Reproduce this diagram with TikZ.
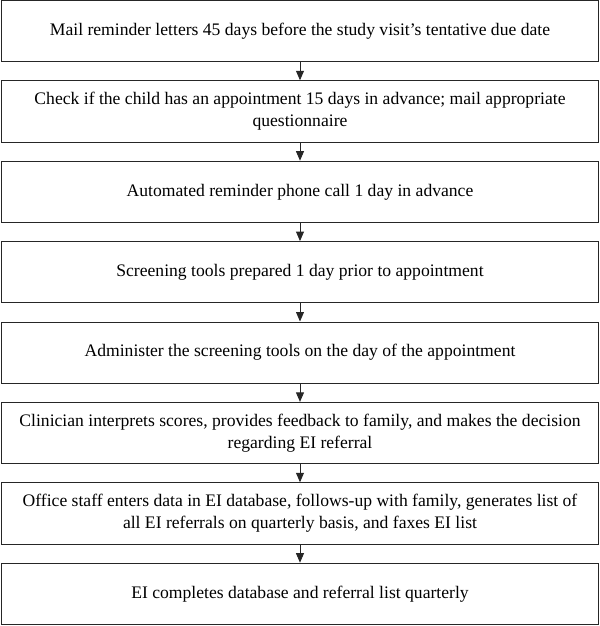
\documentclass[tikz,border=0pt]{standalone}
\usepackage{fontspec}
\setmainfont{Liberation Serif}
\usetikzlibrary{arrows.meta}

\tikzset{
  stepbox/.style={draw=black!85, line width=0.9pt, minimum width=19.9cm, minimum height=2.04cm,
    text width=19.05cm, align=flush center, inner sep=0pt, font=\fontsize{16.7}{21.2}\selectfont},
  flow/.style={draw=black!85, line width=0.9pt, -{Triangle[length=9pt,width=7.5pt]}}
}

\begin{document}
\begin{tikzpicture}
        \useasboundingbox (0,0) rectangle (20,-20.867);

        \node[stepbox] (mail) at (10,-1.033) {Mail reminder letters 45 days before the study visit's tentative due date};
        \node[stepbox] (check) at (10,-3.713) {Check if the child has an appointment 15 days in advance; mail appropriate questionnaire};
        \node[stepbox] (call) at (10,-6.393) {Automated reminder phone call 1 day in advance};
        \node[stepbox] (prep) at (10,-9.073) {Screening tools prepared 1 day prior to appointment};
        \node[stepbox] (admin) at (10,-11.753) {Administer the screening tools on the day of the appointment};
        \node[stepbox] (clin) at (10,-14.433) {Clinician interprets scores, provides feedback to family, and makes the decision regarding EI referral};
        \node[stepbox] (office) at (10,-17.113) {Office staff enters data in EI database, follows-up with family, generates list of all EI referrals on quarterly basis, and faxes EI list};
        \node[stepbox] (ei) at (10,-19.793) {EI completes database and referral list quarterly};

        \draw[flow] (mail) -- (check);
        \draw[flow] (check) -- (call);
        \draw[flow] (call) -- (prep);
        \draw[flow] (prep) -- (admin);
        \draw[flow] (admin) -- (clin);
        \draw[flow] (clin) -- (office);
        \draw[flow] (office) -- (ei);
    \end{tikzpicture}
\end{document}
